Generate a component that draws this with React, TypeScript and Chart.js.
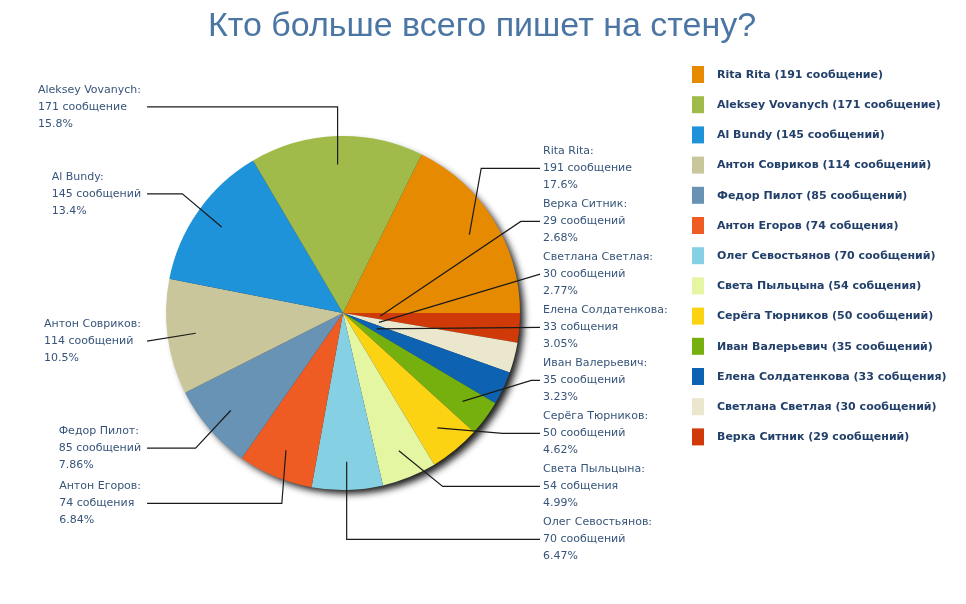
import { useEffect, useRef } from 'react';
import { Chart, registerables, Plugin, ArcElement } from 'chart.js';

Chart.register(...registerables);

// slices in drawing order (clockwise, starting with Rita Rita)
const names = [
  'Rita Rita',
  'Верка Ситник',
  'Светлана Светлая',
  'Елена Солдатенкова',
  'Иван Валерьевич',
  'Серёга Тюрников',
  'Света Пыльцына',
  'Олег Севостьянов',
  'Антон Егоров',
  'Федор Пилот',
  'Антон Совриков',
  'Al Bundy',
  'Aleksey Vovanych',
];
const counts = [191, 29, 30, 33, 35, 50, 54, 70, 74, 85, 114, 145, 171];
const units = [
  'сообщение',
  'сообщений',
  'сообщений',
  'собщения',
  'сообщений',
  'сообщений',
  'собщения',
  'сообщений',
  'собщения',
  'сообщений',
  'сообщений',
  'сообщений',
  'сообщение',
];
const colors = [
  '#e68a02',
  '#cf3a08',
  '#ebe7cd',
  '#0d62b2',
  '#76b00e',
  '#fbd313',
  '#e5f6a2',
  '#86d0e3',
  '#ee5c24',
  '#6893b4',
  '#c9c69c',
  '#1f93d9',
  '#a1bb4b',
];
const title = 'Кто больше всего пишет на стену?';

const total = counts.reduce((a, b) => a + b, 0);

// percentages cut (not rounded) to three significant digits, like the original
const fmtPct = (v: number) => {
  const p = (v / total) * 100;
  const d = p >= 10 ? 1 : 2;
  return (Math.floor(p * 10 ** d) / 10 ** d).toFixed(d) + '%';
};

const LABEL_FONT = '11px "DejaVu Sans"';
const LEGEND_FONT = 'bold 11px "DejaVu Sans"';
const TITLE_FONT = '34px "Liberation Sans"';

// title centred over the whole canvas (not just the pie area)
const titlePlugin: Plugin<'pie'> = {
  id: 'pageTitle',
  afterDraw(chart) {
    const ctx = chart.ctx;
    ctx.save();
    ctx.font = TITLE_FONT;
    ctx.fillStyle = '#4b76a3';
    ctx.textAlign = 'center';
    ctx.textBaseline = 'alphabetic';
    ctx.fillText(title, chart.width / 2 - 1, 36);
    ctx.restore();
  },
};

// soft dark shadow under the pie
const shadowPlugin: Plugin<'pie'> = {
  id: 'pieShadow',
  beforeDatasetsDraw(chart) {
    const el = chart.getDatasetMeta(0).data[0] as unknown as ArcElement;
    if (!el) return;
    const { x, y, outerRadius } = el.getProps(['x', 'y', 'outerRadius'], true);
    const ctx = chart.ctx;
    ctx.save();
    ctx.shadowColor = 'rgba(0,0,0,0.9)';
    ctx.shadowBlur = 7;
    ctx.shadowOffsetX = 5;
    ctx.shadowOffsetY = 5;
    ctx.fillStyle = '#333';
    ctx.beginPath();
    ctx.arc(x, y, outerRadius - 1, 0, Math.PI * 2);
    ctx.fill();
    ctx.restore();
  },
};

// three-line labels with leader lines on both sides of the pie
const calloutPlugin: Plugin<'pie'> = {
  id: 'callouts',
  afterDatasetsDraw(chart) {
    const ctx = chart.ctx;
    const meta = chart.getDatasetMeta(0);
    const items = meta.data.map((node, i) => {
      const arc = node as unknown as ArcElement;
      const { x, y, startAngle, endAngle, outerRadius } = arc.getProps(
        ['x', 'y', 'startAngle', 'endAngle', 'outerRadius'],
        true
      );
      const mid = (startAngle + endAngle) / 2;
      const R = outerRadius;
      const small = counts[i] / total < 0.031;
      const ar = small ? R * 0.21 : R * 0.84;
      const right = Math.cos(mid) >= 0;
      const want = y + Math.sin(mid) * R * (right ? 1.55 : 1.165);
      return {
        i,
        cx: x,
        cy: y,
        R,
        right,
        ax: x + Math.cos(mid) * ar,
        ay: y + Math.sin(mid) * ar,
        want,
        ly: want,
      };
    });

    const gap = 53;
    const rightSide = items.filter((d) => d.right).sort((a, b) => a.want - b.want);
    const leftSide = items.filter((d) => !d.right).sort((a, b) => a.want - b.want);
    // right column is crowded: stack it from the top label
    rightSide.forEach((d, k) => {
      d.ly = k === 0 ? d.want : rightSide[k - 1].ly + gap;
    });
    leftSide.forEach((d, k) => {
      d.ly = k === 0 ? d.want : Math.max(d.want, leftSide[k - 1].ly + gap);
    });

    ctx.save();
    ctx.font = LABEL_FONT;
    ctx.textBaseline = 'middle';
    items.forEach((d) => {
      const lines = [names[d.i] + ':', counts[d.i] + ' ' + units[d.i], fmtPct(counts[d.i])];
      const blockW = Math.max(...lines.map((s) => ctx.measureText(s).width));
      const textX = d.right ? d.cx + d.R * 1.13 : d.cx - d.R * 1.141 - blockW;
      const lineX = d.right ? d.cx + d.R * 1.113 : d.cx - d.R * 1.107;

      const dy = d.ly - d.cy;
      const er = d.R * 1.13;
      let ex: number;
      if (Math.abs(dy) < er) {
        const off = Math.sqrt(er * er - dy * dy);
        ex = d.right ? Math.min(d.cx + off, lineX) : Math.max(d.cx - off, lineX);
      } else {
        ex = d.ax;
      }

      ctx.strokeStyle = '#1b1b1b';
      ctx.lineWidth = 1.2;
      ctx.beginPath();
      ctx.moveTo(lineX, d.ly);
      ctx.lineTo(ex, d.ly);
      ctx.lineTo(d.ax, d.ay);
      ctx.stroke();

      ctx.fillStyle = '#37557a';
      lines.forEach((s, k) => ctx.fillText(s, textX, d.ly + (k - 1) * 17));
    });
    ctx.restore();
  },
};

// legend on the right, sorted by number of messages
const legendPlugin: Plugin<'pie'> = {
  id: 'sortedLegend',
  afterDraw(chart) {
    const ctx = chart.ctx;
    const order = counts.map((_, i) => i).sort((a, b) => counts[b] - counts[a]);
    const left = chart.width - 274;
    const top = 66;
    const step = 30.2;
    ctx.save();
    ctx.font = LEGEND_FONT;
    ctx.textBaseline = 'middle';
    order.forEach((i, row) => {
      const y = top + row * step;
      ctx.fillStyle = colors[i];
      ctx.fillRect(left, y, 12, 17);
      ctx.fillStyle = '#22406a';
      ctx.fillText(`${names[i]} (${counts[i]} ${units[i]})`, left + 25, y + 9);
    });
    ctx.restore();
  },
};

const PieChart = () => {
  const chartRef = useRef<HTMLCanvasElement>(null);
  const chartInstance = useRef<Chart<'pie'> | null>(null);

  useEffect(() => {
    if (!chartRef.current) return;
    if (chartInstance.current) chartInstance.current.destroy();

    chartInstance.current = new Chart(chartRef.current, {
      type: 'pie',
      data: {
        labels: names,
        datasets: [
          {
            data: counts,
            backgroundColor: colors,
            borderWidth: 0,
          },
        ],
      },
      options: {
        responsive: true,
        maintainAspectRatio: false,
        animation: false,
        // Rita Rita ends exactly at three o'clock
        rotation: 90 - (counts[0] / total) * 360,
        radius: 177,
        layout: {
          // leaves the chart area centred on the pie; legend and title are drawn by plugins
          padding: { left: 0, right: 280, top: 53, bottom: 31 },
        },
        plugins: {
          legend: { display: false },
          tooltip: { enabled: false },
          title: { display: false },
        },
      },
      plugins: [shadowPlugin, calloutPlugin, legendPlugin, titlePlugin],
    });

    return () => {
      if (chartInstance.current) {
        chartInstance.current.destroy();
        chartInstance.current = null;
      }
    };
  }, []);

  return (
    <div style={{ position: 'absolute', left: 0, top: 0, width: 966, height: 604, background: '#fff' }}>
      <canvas ref={chartRef}></canvas>
    </div>
  );
};

export default function App() {
  return <PieChart />;
}
